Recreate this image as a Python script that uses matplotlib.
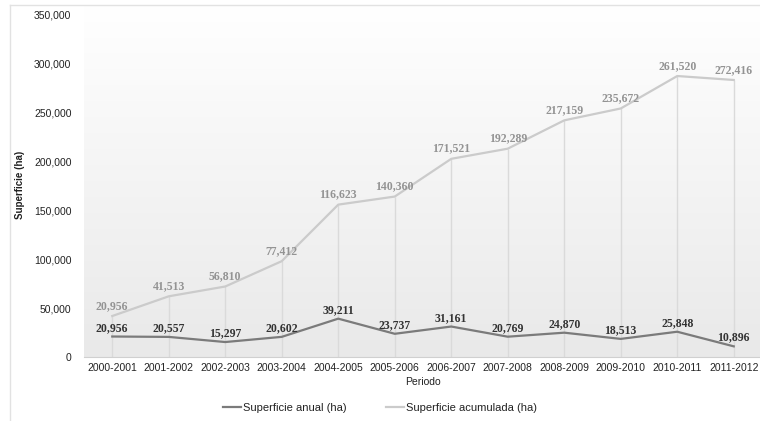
"""
Superficie anual y acumulada por periodo
"""
import matplotlib as mpl
import matplotlib.pyplot as plt
import numpy as np

periodos = ['2000-2001', '2001-2002', '2002-2003', '2003-2004', '2004-2005',
            '2005-2006', '2006-2007', '2007-2008', '2008-2009', '2009-2010',
            '2010-2011', '2011-2012']
anual = [20956, 20557, 15297, 20602, 39211, 23737, 31161, 20769, 24870,
         18513, 25848, 10896]
acumulada = [20956, 41513, 56810, 77412, 116623, 140360, 171521, 192289,
             217159, 235672, 261520, 272416]
yticks = [0, 50000, 100000, 150000, 200000, 250000, 300000, 350000]

mpl.rcParams['font.family'] = 'Liberation Sans'

fig = plt.figure(figsize=(7.6, 4.21), dpi=100)
ax = fig.add_axes([84 / 760, 1 - 357 / 421, 678 / 760, 352 / 421])

x = np.arange(len(periodos))
# the chart stacks the accumulated series on top of the annual one
apilada = np.array(anual) + np.array(acumulada)

# background gradient
grad = np.linspace(0, 1, 256).reshape(-1, 1)
cmap = mpl.colors.LinearSegmentedColormap.from_list('bg', ['#ffffff', '#e9e9e9'])
ax.imshow(grad, cmap=cmap, aspect='auto', extent=[0, 1, 0, 1],
          transform=ax.transAxes, zorder=0)

# drop lines
ax.vlines(x, 0, apilada, color='#dadada', lw=1, zorder=1)

l1, = ax.plot(x, anual, color='#7b7b7b', lw=1.6, zorder=3,
              label='Superficie anual (ha)')
l2, = ax.plot(x, apilada, color='#cbcbcb', lw=1.6, zorder=3,
              label='Superficie acumulada (ha)')

for xi, v in zip(x, anual):
    ax.annotate(f'{v:,}', (xi, v), xytext=(0, 2), textcoords='offset points',
                ha='center', va='bottom', fontsize=8.5, fontweight='bold',
                family='Liberation Serif', color='#333333', zorder=4)
for xi, v, s in zip(x, acumulada, apilada):
    ax.annotate(f'{v:,}', (xi, s), xytext=(0, 3), textcoords='offset points',
                ha='center', va='bottom', fontsize=8.5, fontweight='bold',
                family='Liberation Serif', color='#939393', zorder=4)

ax.set_xlim(-0.5, len(periodos) - 0.5)
ax.set_ylim(0, 360000)
ax.set_xticks(x, labels=periodos)
ax.set_yticks(yticks, labels=[f'{t:,}' for t in yticks])
ax.tick_params(length=0, labelsize=7.5, colors='#222222')
ax.tick_params(axis='x', pad=4)
ax.tick_params(axis='y', pad=9)

for s in ['top', 'right', 'left']:
    ax.spines[s].set_visible(False)
ax.spines['bottom'].set_color('#d0d0d0')

ax.set_xlabel('Periodo', fontsize=7.5, color='#222222', labelpad=3)
fig.text(20 / 760, 1 - 185 / 421, 'Superficie (ha)', rotation=90,
         ha='center', va='center', fontsize=7, fontweight='bold', color='#222222')

# outer frame lines (top and left)
fig.add_artist(plt.Line2D([10 / 760, 1], [1 - 5 / 421] * 2, color='#e2e2e2', lw=1))
fig.add_artist(plt.Line2D([10 / 760] * 2, [0, 1 - 5 / 421], color='#e2e2e2', lw=1))

fig.legend(handles=[l1, l2], loc='center', bbox_to_anchor=(0.5, 1 - 408 / 421),
           ncol=2, frameon=False, fontsize=8, handlelength=1.6,
           handletextpad=0.2, columnspacing=3.5, labelcolor='#222222')

fig.savefig('out.png', dpi=100)
plt.close('all')
